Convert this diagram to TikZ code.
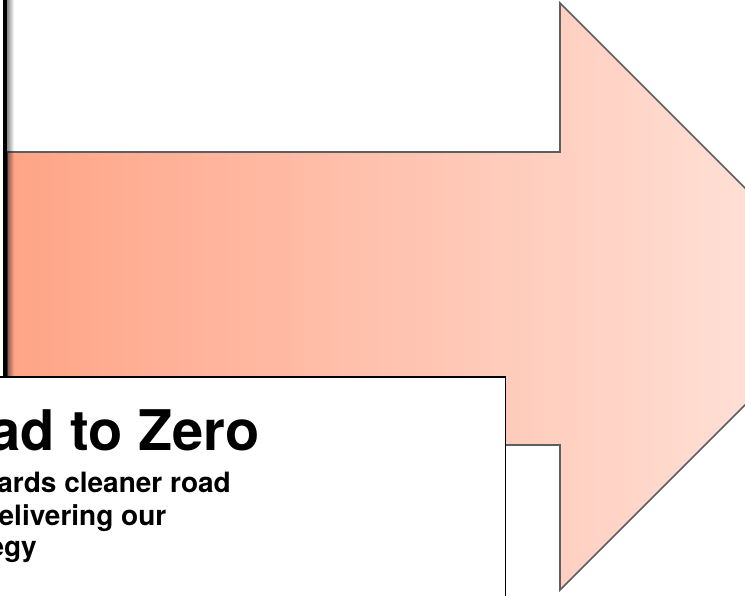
\documentclass[tikz,border=0pt]{standalone}
\usepackage{fontspec}
\setmainfont{TeX Gyre Heros}
\usetikzlibrary{fadings}
\definecolor{arrowL}{RGB}{255,164,134}
\definecolor{arrowR}{RGB}{255,231,224}
\definecolor{edgegray}{RGB}{94,94,98}
\tikzset{
  arrowshape/.style={left color=arrowL, right color=arrowR, draw=edgegray, line width=1.6pt, line join=miter},
  boxshape/.style={draw=black, fill=white, line width=1.6pt},
  titletext/.style={anchor=base east, inner sep=0pt, font=\bfseries\fontsize{56}{60}\selectfont},
  bodytext/.style={anchor=base east, inner sep=0pt, font=\bfseries\fontsize{28}{32}\selectfont}
}
\begin{document}
\begin{tikzpicture}[x=1pt,y=-1pt]
\useasboundingbox (0,0) rectangle (745,595);
\clip (0,0) rectangle (745,595);
% big arrow
\shadedraw[arrowshape] (7,152) -- (560,152) -- (560,3) -- (853.5,296.5) -- (560,590) -- (560,445) -- (7,445) -- cycle;
% shadow and black edge at left
\fill[black, opacity=0.45, path fading=east] (7.3,0) rectangle (14,376);
\fill[black] (3.3,0) rectangle (7.3,376);
% white text box
\draw[boxshape] (-5,377) rectangle (505.5,600);
% texts
\node[titletext] (title) at (260,450) {ad to Zero};
\node[bodytext] (l1) at (231,492.3) {ards cleaner road};
\node[bodytext] (l2) at (166.5,525.5) {elivering our};
\node[bodytext] (l3) at (37,556.5) {egy};
\end{tikzpicture}
\end{document}
